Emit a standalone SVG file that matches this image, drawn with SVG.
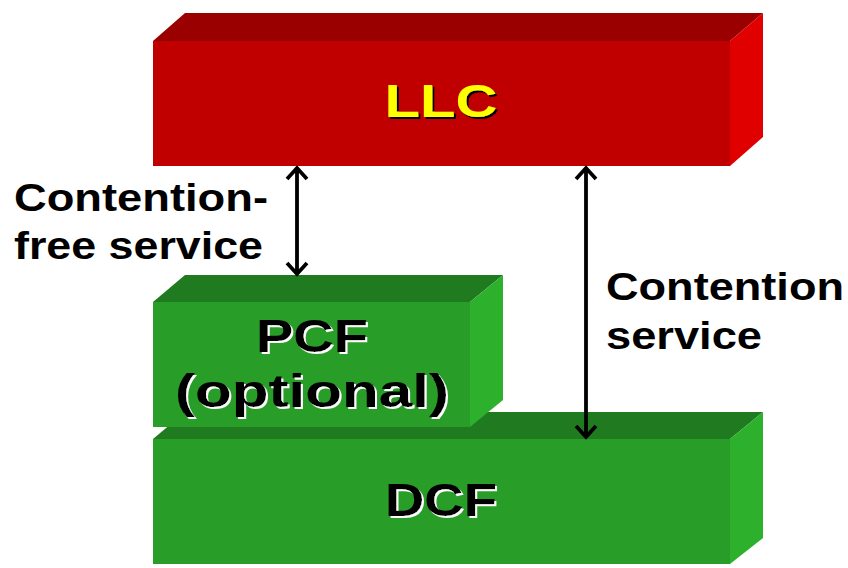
<svg xmlns="http://www.w3.org/2000/svg" width="848" height="568" viewBox="0 0 848 568">
<defs>
<style>
.lbl{font-family:"Liberation Sans",Arial,sans-serif;font-weight:bold;}
.side{font-size:38px;fill:#000;}
.big{font-size:46px;text-anchor:middle;}
.rf{fill:#C00000;} .rt{fill:#9B0000;} .rr{fill:#E00000;}
.gf{fill:#289D28;} .gt{fill:#207A20;} .gr{fill:#2DB12D;}
.conn{stroke:#000;stroke-width:3.8;fill:none;stroke-linejoin:miter;}
</style>
<filter id="shB" x="-10%" y="-20%" width="130%" height="150%">
<feOffset in="SourceAlpha" dx="2" dy="2" result="o"/>
<feFlood flood-color="#000"/>
<feComposite in2="o" operator="in" result="s"/>
<feMerge><feMergeNode in="s"/><feMergeNode in="SourceGraphic"/></feMerge>
</filter>
<filter id="shW" x="-10%" y="-20%" width="130%" height="150%">
<feOffset in="SourceAlpha" dx="2" dy="2" result="o"/>
<feFlood flood-color="#fff"/>
<feComposite in2="o" operator="in" result="s"/>
<feMerge><feMergeNode in="s"/><feMergeNode in="SourceGraphic"/></feMerge>
</filter>
</defs>
<rect width="848" height="568" fill="#fff"/>
<g id="llc">
<polygon class="rt" points="153,41 185,13 763,13 730,41"/>
<polygon class="rr" points="730,41 763,13 763,137 730,166"/>
<rect class="rf" x="153" y="41" width="577" height="125"/>
<text class="lbl big" x="441" y="117" fill="#FFFF00" filter="url(#shB)" textLength="113" lengthAdjust="spacingAndGlyphs">LLC</text>
</g>
<g id="dcf">
<polygon class="gt" points="153,439 185,412 763,412 730,439"/>
<polygon class="gr" points="730,439 763,412 763,538 730,564"/>
<rect class="gf" x="153" y="439" width="577" height="125"/>
<text class="lbl big" x="441" y="516" fill="#000" filter="url(#shW)" textLength="112" lengthAdjust="spacingAndGlyphs">DCF</text>
</g>
<g id="pcf">
<polygon class="gt" points="153,302 185,275 503,275 470,302"/>
<polygon class="gr" points="470,302 503,275 503,400 470,427"/>
<rect class="gf" x="153" y="302" width="317" height="125"/>
<text class="lbl big" x="312" y="352" fill="#000" filter="url(#shW)" textLength="112" lengthAdjust="spacingAndGlyphs">PCF</text>
<text class="lbl big" x="312" y="407" fill="#000" filter="url(#shW)" textLength="274" lengthAdjust="spacingAndGlyphs">(optional)</text>
</g>
<g id="connectors">
<path class="conn" d="M297,169 V273 M287,179 L297,168 L307,179 M287,263 L297,274 L307,263"/>
<path class="conn" d="M586,169 V436 M576,179 L586,168 L596,179 M576,426 L586,437 L596,426"/>
</g>
<g id="labels">
<text class="lbl side" x="14" y="211" textLength="254" lengthAdjust="spacingAndGlyphs">Contention-</text>
<text class="lbl side" x="14" y="259" textLength="249" lengthAdjust="spacingAndGlyphs">free service</text>
<text class="lbl side" x="606" y="300" textLength="238" lengthAdjust="spacingAndGlyphs">Contention</text>
<text class="lbl side" x="606" y="349" textLength="156" lengthAdjust="spacingAndGlyphs">service</text>
</g>
</svg>
